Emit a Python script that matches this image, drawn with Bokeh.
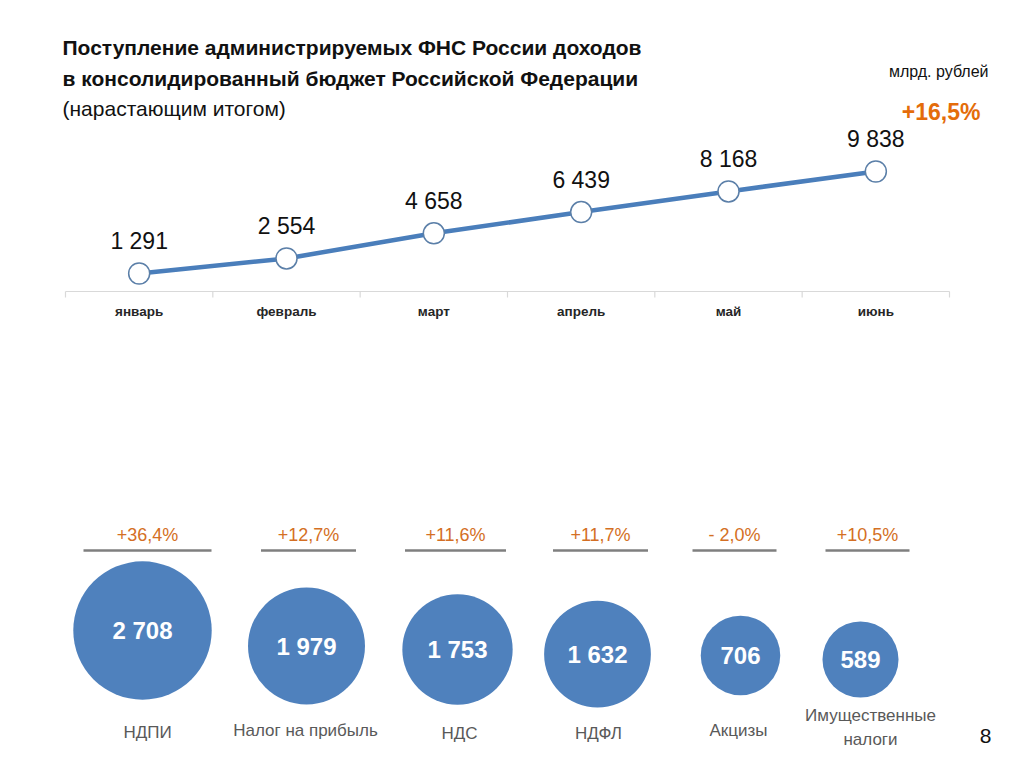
from bokeh.plotting import figure
from bokeh.models import Range1d
from bokeh.embed import file_html
from bokeh.resources import INLINE
from bokeh.core.properties import value

# ---------------- data ----------------
months = ["январь", "февраль", "март", "апрель", "май", "июнь"]
cumulative = [1291, 2554, 4658, 6439, 8168, 9838]
total_growth = "+16,5%"
unit_label = "млрд. рублей"

taxes = ["НДПИ", "Налог на прибыль", "НДС", "НДФЛ", "Акцизы", "Имущественные\nналоги"]
tax_values = [2708, 1979, 1753, 1632, 706, 589]
tax_growth = ["+36,4%", "+12,7%", "+11,6%", "+11,7%", "- 2,0%", "+10,5%"]

title_lines = ["Поступление администрируемых ФНС России доходов",
               "в консолидированный бюджет Российской Федерации",
               "(нарастающим  итогом)"]
page_number = "8"

def fmt(v):
    return f"{v:,}".replace(",", " ")

# ---------------- layout / style ----------------
W, H = 1008, 751
FONT = "Liberation Sans"
BLUE = "#4f81bd"
ORANGE = "#e46c0a"

p = figure(width=W, height=H, output_backend="svg", toolbar_location=None,
           x_range=Range1d(0, W), y_range=Range1d(H, 0),
           min_border=0, outline_line_color=None)
p.axis.visible = False
p.grid.visible = False

# month scale: 6 categories spanning pixel 65..949
left_px, right_px = 65, 949
cat_w = (right_px - left_px) / len(months)
p.extra_x_ranges["months"] = Range1d(-left_px / cat_w, (W - left_px) / cat_w)
# value scale: value 0 at pixel 288.4, 0.011934 px per unit
px_per = 0.011934
zero_px = 288.4
p.extra_y_ranges["val"] = Range1d((zero_px - H) / px_per, zero_px / px_per)

axis_y = 291
xs = [i + 0.5 for i in range(len(months))]
bounds = list(range(len(months) + 1))

# axis line & boundary ticks
p.segment(x0=[0], x1=[len(months)], y0=[axis_y], y1=[axis_y],
          x_range_name="months", line_color="#d9d9d9", line_width=1.2)
p.segment(x0=bounds, x1=bounds, y0=[axis_y] * len(bounds),
          y1=[axis_y + 6] * len(bounds),
          x_range_name="months", line_color="#d9d9d9", line_width=1.2)
p.text(x=xs, y=[311] * len(months), text=months, x_range_name="months",
       text_font=value(FONT), text_font_size="13.5px", text_font_style="bold",
       text_align="center", text_baseline="middle", text_color="#262626")

# line
p.line(x=xs, y=cumulative, x_range_name="months", y_range_name="val",
       line_color="#4a7ebb", line_width=4.5)
p.scatter(x=xs, y=cumulative, x_range_name="months", y_range_name="val",
          marker="circle", size=21, fill_color="white", line_color="#5b7fa8",
          line_width=1.5)
p.text(x=xs, y=cumulative, text=[fmt(v) for v in cumulative],
       x_range_name="months", y_range_name="val",
       text_font=value(FONT), text_font_size="23px", text_align="center",
       text_baseline="middle", y_offset=-32, text_color="#111111")

# title
p.text(x=[62, 62], y=[47, 78], text=title_lines[:2], text_font=value(FONT),
       text_font_size="21px", text_font_style="bold", text_baseline="middle",
       text_color="#111111")
p.text(x=[62], y=[108], text=title_lines[2:], text_font=value(FONT),
       text_font_size="21px", text_baseline="middle", text_color="#111111")

# unit & total growth
p.text(x=[988], y=[71], text=[unit_label], text_font=value(FONT),
       text_font_size="16px", text_align="right", text_baseline="middle",
       text_color="#111111")
p.text(x=[980], y=[111], text=[total_growth], text_font=value(FONT),
       text_font_size="23px", text_font_style="bold", text_align="right",
       text_baseline="middle", text_color=ORANGE)

# bubbles
col_x = [147, 308, 455, 600, 734, 867]
bub_x = [142, 306, 457, 597, 740, 860]
bub_y = [630, 645.5, 649, 653.7, 655, 659]
lab_x = [147, 305, 459, 598, 738, 870]
lab_y = [732, 730, 733, 733, 730, 727]
line_w = [128, 95, 101, 95, 84, 84]
diam = [58.7 + 0.02945 * v for v in tax_values]

p.segment(x0=[c - w / 2 for c, w in zip(col_x, line_w)],
          x1=[c + w / 2 for c, w in zip(col_x, line_w)],
          y0=[550] * 6, y1=[550] * 6, line_color="#7f7f7f", line_width=2.5)
p.text(x=col_x, y=[534] * 6, text=tax_growth, text_font=value(FONT),
       text_font_size="18px", text_align="center", text_baseline="middle",
       text_color="#d46f24")
p.scatter(x=bub_x, y=bub_y, size=diam, marker="circle", fill_color=BLUE,
          line_color=None)
p.text(x=bub_x, y=bub_y, text=[fmt(v) for v in tax_values],
       text_font=value(FONT), text_font_size="24px", text_font_style="bold",
       text_align="center", text_baseline="middle", text_color="white")
p.text(x=lab_x, y=lab_y, text=taxes,
       text_font=value(FONT), text_font_size="17px", text_align="center",
       text_baseline="middle", text_color="#595959", text_line_height=1.25)

p.text(x=[985], y=[735], text=[page_number], text_font=value(FONT),
       text_font_size="21px", text_align="center", text_baseline="middle",
       text_color="#111111")

open("out.html", "w").write(file_html(p, INLINE))
